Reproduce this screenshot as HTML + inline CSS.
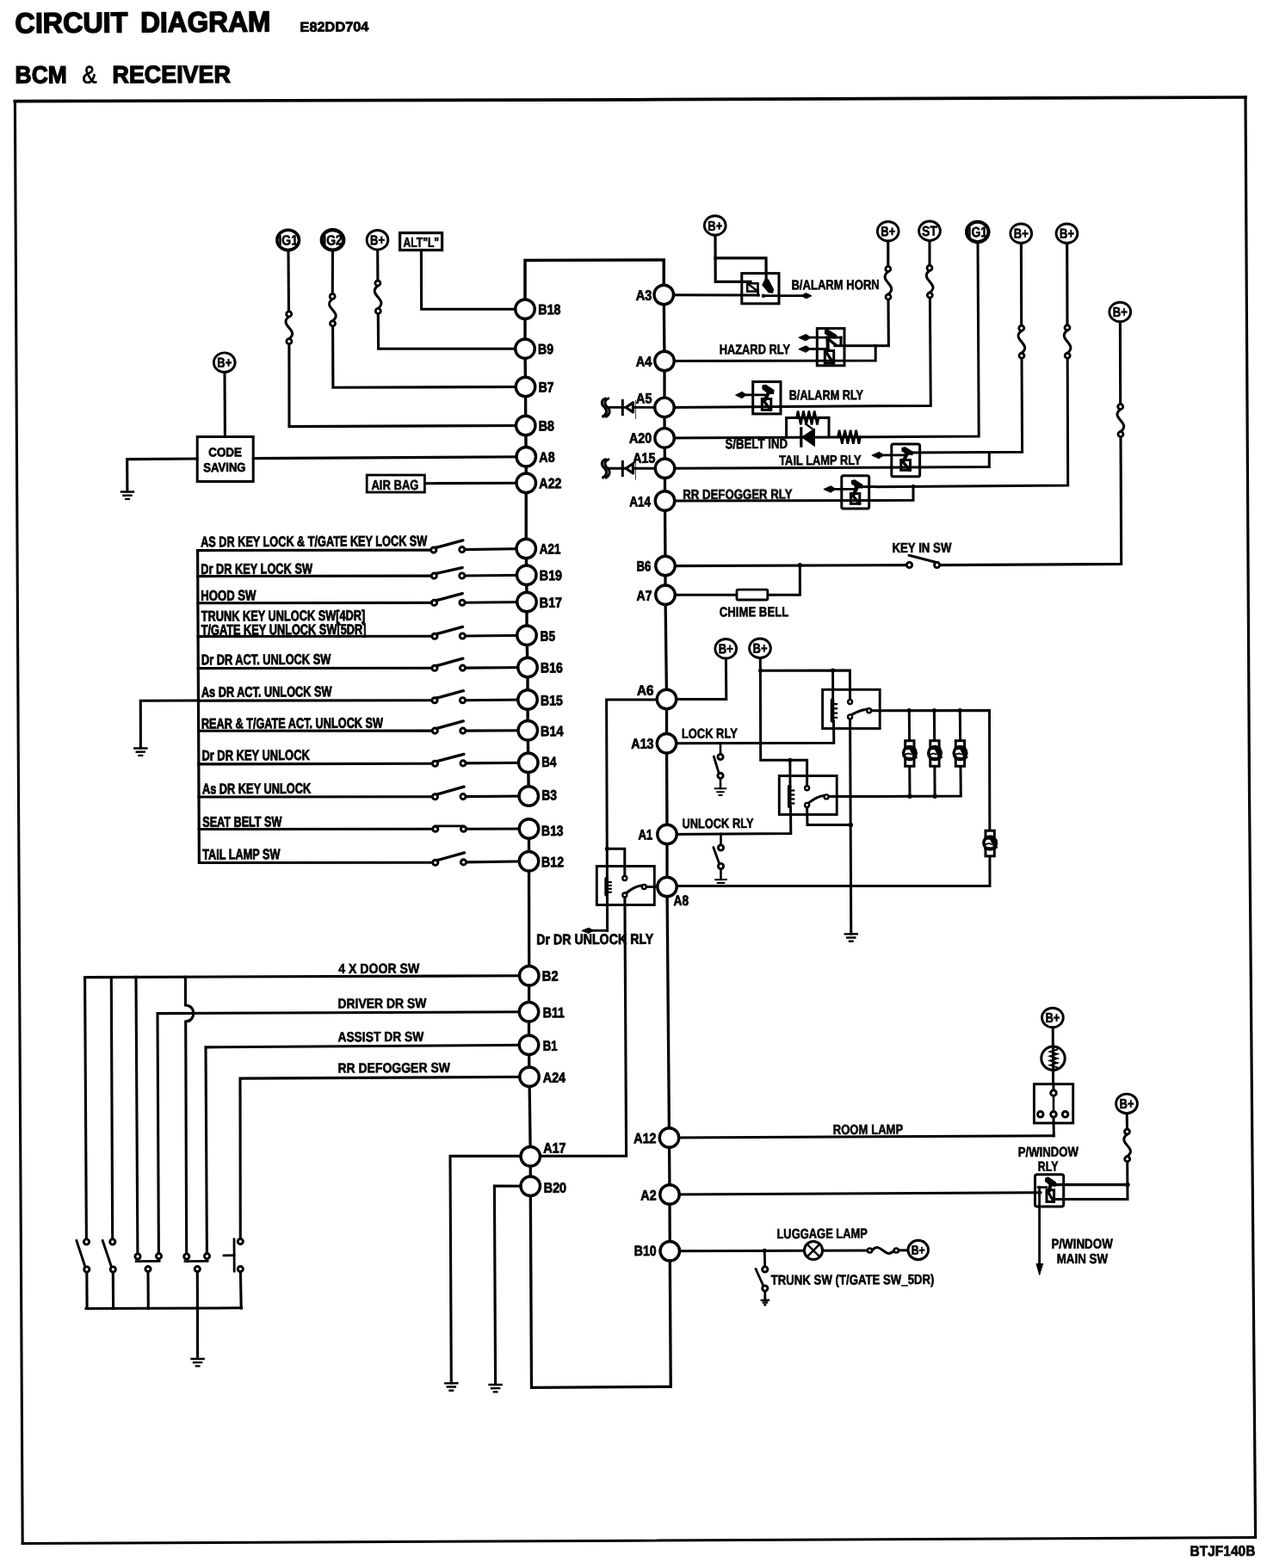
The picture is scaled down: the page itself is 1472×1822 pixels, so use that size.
<!DOCTYPE html>
<html lang="en">
<head>
<meta charset="utf-8">
<title>Circuit Diagram - BCM &amp; Receiver</title>
<style>
html,body{margin:0;padding:0;background:#fff;-webkit-font-smoothing:antialiased;}
body{width:1472px;height:1822px;overflow:hidden;}
svg{display:block;text-rendering:geometricPrecision;filter:grayscale(1);}
text{white-space:pre;}
</style>
</head>
<body>
<svg width="1472" height="1822" viewBox="0 0 1472 1822" font-family="'Liberation Sans', sans-serif">
<g fill="none" stroke="#000" stroke-linecap="square" stroke-linejoin="miter">
<path d="M17.4 117.6 L736 115.8 L1447 113" stroke-width="3.7"/>
<path d="M1447 113 L1451.5 920 L1458.6 1786.5" stroke-width="3.2"/>
<path d="M26.2 1793.5 L736 1790.2 L1458.6 1786.5" stroke-width="2.9"/>
<path d="M17.4 117.6 L21.5 920 L26.2 1793.5" stroke-width="3.1"/>
<path d="M610 359 L610 302.5 L771.25 302 L771.25 342" stroke-width="3.5"/>
<path d="M610 359.25 L610 405.2 L610.5 449.5 L610.75 494.5 L611.25 530.75 L611.25 561.25 L611.25 637.5 L611.75 668.25 L612 699.5 L612 738.25 L613 775.5 L613 813 L613.25 848.75 L613.75 886.25 L614.25 925" stroke-width="3.4"/>
<path d="M614.5 963 L614.5 1000.75 L614.75 1133.75 L614.5 1175.75 L614.5 1214.25 L615 1251.25 L616.25 1343.75 L616.25 1378.25 L617.5 1612.3 L779.25 1611.3 L778.25 1453.75 L778 1388 L777.5 1322 L775 1030.5 L775 969.5 L774.5 863.75 L774.5 812.5 L773 691.25 L773 657.5 L772.5 582 L772.5 544.3 L772.1 508.9 L772 473.4 L772 419.5 L771.25 342.5" stroke-width="3.3"/>
<path d="M335 291 L335.5 362" stroke-width="3.1"/>
<path d="M335.7 367.9 C322.7 378.26 348.9 383.34 335.9 393.7" stroke-width="3"/>
<path d="M335.9 399.5 L336 495.6 L610.75 494.5" stroke-width="3.1"/>
<path d="M386.5 291 L386.3 341.5" stroke-width="3.1"/>
<path d="M386.2 347.4 C373.2 357.59 399.5 362.61 386.5 372.8" stroke-width="3"/>
<path d="M386.6 378.5 L386.9 450.3 L610.5 449.5" stroke-width="3.1"/>
<path d="M438.7 291 L438.9 326" stroke-width="3.1"/>
<path d="M438.9 332 C425.9 342.61 452.3 347.79 439.3 358.4" stroke-width="3"/>
<path d="M439.3 364.3 L439.6 405.3 L610 405.2" stroke-width="3.1"/>
<rect x="464.6" y="270.6" width="49" height="20" stroke-width="3.2" fill="#fff"/>
<path d="M489.4 291 L489.6 359.3 L610 359.2" stroke-width="3.1"/>
<path d="M261 433.5 L261.4 507" stroke-width="3.1"/>
<rect x="229.2" y="507.5" width="65" height="52" stroke-width="3" fill="#fff"/>
<path d="M229 533 L147.7 533.6 L147.9 571" stroke-width="3.1"/>
<path d="M139.75 571.57 L156.25 571.43" stroke-width="2.4" stroke-linecap="butt"/>
<path d="M142.25 575.75 L153.75 575.65" stroke-width="2.4" stroke-linecap="butt"/>
<path d="M145 579.92 L151 579.88" stroke-width="2.4" stroke-linecap="butt"/>
<path d="M294.4 532.6 L611.25 530.75" stroke-width="3.1"/>
<rect x="426.2" y="552" width="67.2" height="20" stroke-width="2.8" fill="#fff"/>
<path d="M493.5 561.7 L611.25 561.25" stroke-width="3.1"/>
<path d="M229.6 639.6 L231.4 1002.2" stroke-width="3.2"/>
<path d="M229.61 639.6 L501.3 639.1" stroke-width="3.1"/>
<path d="M539.3 638.6 L611.25 637.5" stroke-width="3.1"/>
<path d="M505.8 636.5 L537.8 627.9" stroke-width="3.4" stroke-linecap="round"/>
<path d="M229.76 669.6 L501.8 669.1" stroke-width="3.1"/>
<path d="M539.3 669 L611.75 668.25" stroke-width="3.1"/>
<path d="M506.3 666.5 L537.1 659.6" stroke-width="3.4" stroke-linecap="round"/>
<path d="M229.91 700.8 L502 700.4" stroke-width="3.1"/>
<path d="M539.5 700.2 L612 699.5" stroke-width="3.1"/>
<path d="M506.5 697.8 L537.2 689.6" stroke-width="3.4" stroke-linecap="round"/>
<path d="M230.1 739.6 L502.5 739.3" stroke-width="3.1"/>
<path d="M539.8 739 L612 738.25" stroke-width="3.1"/>
<path d="M507 736.7 L537.5 728.4" stroke-width="3.4" stroke-linecap="round"/>
<path d="M230.28 776.6 L502.5 776.3" stroke-width="3.1"/>
<path d="M540 776.1 L613 775.5" stroke-width="3.1"/>
<path d="M507 773.7 L537.8 765.2" stroke-width="3.4" stroke-linecap="round"/>
<path d="M230.47 814.2 L502.5 813.8" stroke-width="3.1"/>
<path d="M540 813.7 L613 813" stroke-width="3.1"/>
<path d="M507 811.2 L538.3 802.7" stroke-width="3.4" stroke-linecap="round"/>
<path d="M230.64 849.2 L502.8 849.1" stroke-width="3.1"/>
<path d="M540.3 849.1 L613.25 848.75" stroke-width="3.1"/>
<path d="M507.3 846.5 L538.3 837.9" stroke-width="3.4" stroke-linecap="round"/>
<path d="M230.83 887.9 L503 887.3" stroke-width="3.1"/>
<path d="M540.5 886.9 L613.75 886.25" stroke-width="3.1"/>
<path d="M507.5 884.7 L538.8 876.4" stroke-width="3.4" stroke-linecap="round"/>
<path d="M231.02 926 L503 925.8" stroke-width="3.1"/>
<path d="M540.5 925.6 L614.25 925" stroke-width="3.1"/>
<path d="M507.5 923.2 L539 914.2" stroke-width="3.4" stroke-linecap="round"/>
<path d="M231.2 963.5 L503.3 963.3" stroke-width="3.1"/>
<path d="M541 963.3 L614.5 963" stroke-width="3.1"/>
<path d="M505.8 959.9 L538.5 959.9" stroke-width="2.8"/>
<path d="M231.4 1002.5 L503.3 1002.3" stroke-width="3.1"/>
<path d="M541 1001.9 L614.5 1000.75" stroke-width="3.1"/>
<path d="M507.8 999.7 L539.5 990.9" stroke-width="3.4" stroke-linecap="round"/>
<path d="M231 814 L163.3 814.2 L163.4 869" stroke-width="3.1"/>
<path d="M155.05 869.57 L171.55 869.43" stroke-width="2.4" stroke-linecap="butt"/>
<path d="M157.55 873.75 L169.05 873.65" stroke-width="2.4" stroke-linecap="butt"/>
<path d="M160.3 877.92 L166.3 877.88" stroke-width="2.4" stroke-linecap="butt"/>
<path d="M100.4 1441 L98.6 1135.6 L614.75 1133.75" stroke-width="3.1"/>
<path d="M129.3 1135.5 L130.7 1441" stroke-width="3.1"/>
<path d="M158 1135.4 L159.9 1458" stroke-width="3.1"/>
<path d="M215.4 1135.2 L215.5 1168 C228 1168.5 228 1186.5 215.7 1187 L216.7 1458" stroke-width="3.1"/>
<path d="M184.4 1457.5 L183 1177.6 L614.5 1175.75" stroke-width="3.1"/>
<path d="M240.4 1457.5 L239 1216.9 L614.5 1214.25" stroke-width="3.1"/>
<path d="M279.3 1440.5 L279 1253.1 L615 1251.25" stroke-width="3.1"/>
<path d="M88.8 1441.3 L99.3 1473" stroke-width="2.9" stroke-linecap="round"/>
<path d="M100.8 1477.5 L101.1 1520.3" stroke-width="3.1"/>
<path d="M119.1 1441.3 L129.8 1473" stroke-width="2.9" stroke-linecap="round"/>
<path d="M131.3 1477.5 L131.6 1520.3" stroke-width="3.1"/>
<path d="M158.2 1465.6 L185.1 1465.4" stroke-width="2.8"/>
<path d="M215 1465.6 L241.1 1465.4" stroke-width="2.8"/>
<path d="M172 1477.5 L172.3 1520.2" stroke-width="3.1"/>
<path d="M229.3 1477.5 L229.6 1578.5" stroke-width="3.1"/>
<path d="M272 1440 L272.2 1477" stroke-width="2.8"/>
<path d="M260 1458.8 L272 1458.7" stroke-width="2.8"/>
<path d="M279.4 1477.5 L280.2 1520" stroke-width="3.1"/>
<path d="M100 1520.5 L280.6 1519.8" stroke-width="3"/>
<path d="M221.35 1579.07 L237.85 1578.93" stroke-width="2.4" stroke-linecap="butt"/>
<path d="M223.85 1583.25 L235.35 1583.15" stroke-width="2.4" stroke-linecap="butt"/>
<path d="M226.6 1587.42 L232.6 1587.38" stroke-width="2.4" stroke-linecap="butt"/>
<path d="M524.3 1607 L523 1343.4 L727.6 1343.2 L725.9 1043" stroke-width="3.1"/>
<path d="M516.05 1607.37 L532.55 1607.23" stroke-width="2.4" stroke-linecap="butt"/>
<path d="M518.55 1611.55 L530.05 1611.45" stroke-width="2.4" stroke-linecap="butt"/>
<path d="M521.3 1615.72 L527.3 1615.68" stroke-width="2.4" stroke-linecap="butt"/>
<path d="M575.6 1608.5 L574.4 1378.1 L616.25 1378.2" stroke-width="3.1"/>
<path d="M567.35 1609.07 L583.85 1608.93" stroke-width="2.4" stroke-linecap="butt"/>
<path d="M569.85 1613.25 L581.35 1613.15" stroke-width="2.4" stroke-linecap="butt"/>
<path d="M572.6 1617.42 L578.6 1617.38" stroke-width="2.4" stroke-linecap="butt"/>
<path d="M831 274 L831.2 327.4 L872 327.4" stroke-width="3.2"/>
<path d="M831.1 299.9 L890 299.9 L890.2 327" stroke-width="3.2"/>
<rect x="861.8" y="317.6" width="43.2" height="35.2" stroke-width="3" fill="none"/>
<rect x="868.2" y="329.3" width="12.3" height="9.3" stroke-width="2.6" fill="none"/>
<path d="M868.5 329.5 L880.5 338.5" stroke-width="2.4"/>
<path d="M880.5 338 L880.8 343" stroke-width="2.8"/>
<path d="M889 325 L892.5 325 L898.5 336.5 L897.5 340 L893 339.5 L886 331 Z" fill="#000" stroke="#000" stroke-width="1.4" stroke-linejoin="round"/>
<path d="M771.25 342.8 L881.2 343" stroke-width="3.1"/>
<path d="M886.5 343.6 L938.5 343.6" stroke-width="2.8"/>
<path d="M942.5 343.6 L936.5 340.6 L930.5 343.6 L936.5 346.6 Z" fill="#000" stroke="#000" stroke-width="1" stroke-linejoin="round"/>
<circle cx="887" cy="343.7" r="2.3" fill="#000" stroke="none"/>
<path d="M1031.8 281 L1031.8 309.5" stroke-width="3.1"/>
<path d="M1031.8 315.5 C1018.8 326.15 1045 331.35 1032 342" stroke-width="3"/>
<path d="M1032 348 L1032.4 401.8 L970 401.7" stroke-width="3.1"/>
<path d="M772 419.5 L1017.2 419 L1017.2 401.8" stroke-width="3"/>
<rect x="949.3" y="381.6" width="31.7" height="43.2" stroke-width="3" fill="none"/>
<path d="M932.3 392.1 L977 392.1" stroke-width="2.8"/>
<path d="M928.3 392.1 L936.4 388.5 L941.8 392.1 L936.4 395.7 Z" fill="#000" stroke="#000" stroke-width="1" stroke-linejoin="round"/>
<path d="M932.3 405.5 L962 405.5" stroke-width="2.8"/>
<path d="M928.3 405.5 L936.4 401.9 L941.8 405.5 L936.4 409.1 Z" fill="#000" stroke="#000" stroke-width="1" stroke-linejoin="round"/>
<path d="M977 392.2 L977 401.5" stroke-width="3"/>
<path d="M958.5 383.8 L962 383.5 L972 389.8 L971 393 L966 392.5 L958.5 387.5 Z" fill="#000" stroke="#000" stroke-width="1.2" stroke-linejoin="round"/>
<path d="M960.5 392.5 L970.5 400.5" stroke-width="3.4"/>
<path d="M961.5 393 L961.8 407" stroke-width="4"/>
<rect x="958.3" y="407.5" width="10.4" height="14.5" stroke-width="3" fill="none"/>
<path d="M959 408 L968 421.5" stroke-width="3.4"/>
<path d="M1080 280.5 L1080 308.3" stroke-width="3.1"/>
<path d="M1080 314.3 C1067 324.61 1093.3 329.69 1080.3 340" stroke-width="3"/>
<path d="M1080.4 346 L1081.3 471.4 L772 473.4" stroke-width="3"/>
<rect x="874.7" y="443.6" width="32.3" height="37.3" stroke-width="3" fill="none"/>
<path d="M859 458.9 L888 458.9" stroke-width="2.8"/>
<path d="M855 458.9 L862.2 455.3 L867 458.9 L862.2 462.5 Z" fill="#000" stroke="#000" stroke-width="1" stroke-linejoin="round"/>
<path d="M886 448 L889.5 447.3 L899 453.5 L898.5 457.5 L893.5 457.5 L886 452 Z" fill="#000" stroke="#000" stroke-width="1.2" stroke-linejoin="round"/>
<path d="M893 456 L889 464" stroke-width="4.2"/>
<rect x="885.3" y="463.5" width="10.5" height="12.8" stroke-width="3" fill="none"/>
<path d="M886 464 L895 476" stroke-width="3.4"/>
<path d="M708 473.4 L772 473.4" stroke-width="2.9"/>
<path d="M723.3 464 L723.3 483.2" stroke-width="3" stroke-linecap="butt"/>
<path d="M727.3 473.4 L735.4 467.8 L735.4 479 Z" fill="#fff" stroke="#000" stroke-width="3.2" stroke-linejoin="round"/>
<path d="M738.4 465.4 L738.4 486.4" stroke-width="0.8"/>
<path d="M704.4 462.6 C697.5 464.4 698.5 470.4 702.5 473.4 C706 477.4 705 481.9 699.4 484.7" stroke-width="3" stroke-linecap="butt"/>
<path d="M708 462.6 C701.1 464.4 702.1 470.4 706.1 473.4 C709.6 477.4 708.6 481.9 703 484.7" stroke-width="3" stroke-linecap="butt"/>
<path d="M708 544.3 L772 544.3" stroke-width="2.9"/>
<path d="M723.3 534.9 L723.3 554.1" stroke-width="3" stroke-linecap="butt"/>
<path d="M727.3 544.3 L735.4 538.7 L735.4 549.9 Z" fill="#fff" stroke="#000" stroke-width="3.2" stroke-linejoin="round"/>
<path d="M738.4 536.3 L738.4 557.3" stroke-width="0.8"/>
<path d="M704.4 533.5 C697.5 535.3 698.5 541.3 702.5 544.3 C706 548.3 705 552.8 699.4 555.6" stroke-width="3" stroke-linecap="butt"/>
<path d="M708 533.5 C701.1 535.3 702.1 541.3 706.1 544.3 C709.6 548.3 708.6 552.8 703 555.6" stroke-width="3" stroke-linecap="butt"/>
<path d="M1136 282 L1137.2 507.1 L772.1 508.9" stroke-width="3"/>
<path d="M913.6 508 L913.6 485.6 L963 485.3 L963 507.6" stroke-width="3"/>
<path d="M925.5 485.6 L927.09 477.6 L930.28 493.6 L933.47 477.6 L936.66 493.6 L939.84 477.6 L943.03 493.6 L946.22 477.6 L949.41 493.6 L951 485.6" stroke-width="2.6" stroke-linejoin="miter"/>
<path d="M973.5 507.7 L975.12 499.7 L978.38 515.7 L981.62 499.7 L984.88 515.7 L988.12 499.7 L991.38 515.7 L994.62 499.7 L997.88 515.7 L999.5 507.7" stroke-width="2.6" stroke-linejoin="miter"/>
<path d="M930.8 497.8 L930.8 518.2" stroke-width="3.2"/>
<path d="M931.8 507.9 L946.4 498.2 L946.4 518.2 Z" fill="#000" stroke="#000" stroke-width="1.2" stroke-linejoin="round"/>
<path d="M943.5 498 L936.3 492.8" stroke-width="2.2"/>
<path d="M1186.4 283.5 L1186.7 378.3" stroke-width="3.1"/>
<path d="M1186.75 384.25 C1173.75 394.69 1200 399.81 1187 410.25" stroke-width="3"/>
<path d="M1187 416.2 L1187.6 525.2 L1052 526" stroke-width="3"/>
<path d="M772.5 544.3 L1149.3 542.5 L1149.3 525.4" stroke-width="3"/>
<rect x="1035.8" y="516" width="32.8" height="37.7" stroke-width="3" fill="none" rx="2"/>
<path d="M1017.3 528.9 L1050 528.9" stroke-width="2.8"/>
<path d="M1013.3 528.9 L1021.4 525.3 L1026.8 528.9 L1021.4 532.5 Z" fill="#000" stroke="#000" stroke-width="1" stroke-linejoin="round"/>
<path d="M1048 520.5 L1051.5 519.8 L1060.5 525.3 L1060 528.5 L1055 528 L1048 524 Z" fill="#000" stroke="#000" stroke-width="1.2" stroke-linejoin="round"/>
<path d="M1054 527 L1050 535" stroke-width="4.2"/>
<rect x="1046.8" y="534.5" width="10.7" height="11.8" stroke-width="3" fill="none"/>
<path d="M1047.5 535 L1057 546" stroke-width="3.4"/>
<path d="M1239.7 283.5 L1240 377.8" stroke-width="3.1"/>
<path d="M1240 383.75 C1227 394.4 1253.2 399.6 1240.2 410.25" stroke-width="3"/>
<path d="M1240.2 416.2 L1240.7 563.9 L994 565.8" stroke-width="3"/>
<path d="M772.5 582 L1061 581.3 L1061 564.5" stroke-width="3"/>
<rect x="977.8" y="552.8" width="31.9" height="38.1" stroke-width="3" fill="none" rx="2"/>
<path d="M961.3 568.3 L992 568.3" stroke-width="2.8"/>
<path d="M957.3 568.3 L965.4 564.7 L970.8 568.3 L965.4 571.9 Z" fill="#000" stroke="#000" stroke-width="1" stroke-linejoin="round"/>
<path d="M989.5 558.5 L993 557.8 L1002 563.5 L1001.5 567 L996.5 566.5 L989.5 562 Z" fill="#000" stroke="#000" stroke-width="1.2" stroke-linejoin="round"/>
<path d="M996 566 L992 574" stroke-width="4.2"/>
<rect x="988.5" y="573.5" width="10.3" height="11.8" stroke-width="3" fill="none"/>
<path d="M989 574 L998.5 585" stroke-width="3.4"/>
<path d="M1301.4 375 L1301.7 469.5" stroke-width="3.1"/>
<path d="M1301.75 475.5 C1288.75 485.94 1315 491.06 1302 501.5" stroke-width="3"/>
<path d="M1302 507.5 L1302.7 655.5 L1091.5 656.6" stroke-width="3.1"/>
<path d="M1087 653.2 L1056 645.3" stroke-width="3" stroke-linecap="round"/>
<path d="M1053.5 656.6 L773 657.6" stroke-width="3.1"/>
<circle cx="929.3" cy="656.6" r="2.5" fill="#000" stroke="none"/>
<path d="M929.3 656.8 L929.4 691.3 L773 691.25" stroke-width="3"/>
<rect x="856" y="685.2" width="35.8" height="11.8" stroke-width="2.8" fill="#fff" rx="1.5"/>
<path d="M843.4 766 L843.8 812.6 L774.5 812.5" stroke-width="3"/>
<path d="M774.5 812.9 L704.6 813.1 L705.6 1081.3" stroke-width="3"/>
<path d="M680.3 1081.3 L705.6 1081.3" stroke-width="2.8"/>
<path d="M676.3 1081.3 L684.1 1078.3 L689.3 1081.3 L684.1 1084.3 Z" fill="#000" stroke="#000" stroke-width="1" stroke-linejoin="round"/>
<circle cx="705.3" cy="986.3" r="2.5" fill="#000" stroke="none"/>
<path d="M705.3 986.3 L725.8 986.2 L725.8 1017.5" stroke-width="3"/>
<rect x="693.3" y="1006.5" width="67" height="45" stroke-width="2.9" fill="none"/>
<path d="M704.6 1021 L704.6 1039.5" stroke-width="4.6" stroke-linecap="round"/>
<path d="M706.2 1025.05 L710.8 1025.05" stroke-width="2.2" stroke-linecap="butt"/>
<path d="M706.2 1028.92 L710.8 1028.92" stroke-width="2.2" stroke-linecap="butt"/>
<path d="M706.2 1032.8 L710.8 1032.8" stroke-width="2.2" stroke-linecap="butt"/>
<path d="M706.2 1036.67 L710.8 1036.67" stroke-width="2.2" stroke-linecap="butt"/>
<path d="M727.8 1037.5 Q737.05 1030 745.3 1029" stroke-width="3"/>
<path d="M751.3 1030.5 L775 1030.5" stroke-width="2.9"/>
<path d="M883.3 765.5 L883.7 883.3 L937.6 883.2 L937.6 912.7" stroke-width="3"/>
<path d="M883.5 779.2 L987.4 779 L987.6 812.6" stroke-width="3"/>
<circle cx="883.6" cy="779.2" r="2.5" fill="#000" stroke="none"/>
<circle cx="967.6" cy="779.1" r="2.5" fill="#000" stroke="none"/>
<path d="M967.6 779.2 L967.7 813" stroke-width="2.9"/>
<path d="M968.5 838 L968.8 863.3 L774.5 863.75" stroke-width="3"/>
<rect x="955.6" y="801.3" width="66.6" height="45.2" stroke-width="2.9" fill="none"/>
<path d="M967 813.5 L967 837.5" stroke-width="4.6" stroke-linecap="round"/>
<path d="M968.6 818.1 L973.2 818.1" stroke-width="2.2" stroke-linecap="butt"/>
<path d="M968.6 823.35 L973.2 823.35" stroke-width="2.2" stroke-linecap="butt"/>
<path d="M968.6 828.6 L973.2 828.6" stroke-width="2.2" stroke-linecap="butt"/>
<path d="M968.6 833.85 L973.2 833.85" stroke-width="2.2" stroke-linecap="butt"/>
<path d="M989.6 830.4 Q998.65 825.2 1006.7 824.2" stroke-width="3"/>
<circle cx="917.9" cy="883.2" r="2.5" fill="#000" stroke="none"/>
<path d="M917.9 883.3 L918 913.5" stroke-width="2.9"/>
<path d="M918.5 937.5 L918.8 968.6 L775 969.5" stroke-width="3"/>
<rect x="905.3" y="901.5" width="66.9" height="45" stroke-width="2.9" fill="none"/>
<path d="M917.2 914 L917.2 937" stroke-width="4.6" stroke-linecap="round"/>
<path d="M918.8 918.5 L923.4 918.5" stroke-width="2.2" stroke-linecap="butt"/>
<path d="M918.8 923.5 L923.4 923.5" stroke-width="2.2" stroke-linecap="butt"/>
<path d="M918.8 928.5 L923.4 928.5" stroke-width="2.2" stroke-linecap="butt"/>
<path d="M918.8 933.5 L923.4 933.5" stroke-width="2.2" stroke-linecap="butt"/>
<path d="M939.6 932.9 Q948.85 925.4 957.1 924.4" stroke-width="3"/>
<path d="M1012.7 825.7 L1149.5 825.4 L1150 1029.6 L775 1029.6" stroke-width="3"/>
<path d="M963.1 925.6 L1116.3 925 L1115.3 825.5" stroke-width="3"/>
<path d="M1056.3 825.5 L1057 925.2" stroke-width="3"/>
<circle cx="1056.3" cy="825.6" r="2.5" fill="#000" stroke="none"/>
<circle cx="1057" cy="925.2" r="2.7" fill="#000" stroke="none"/>
<path d="M1085.4 825.5 L1086.1 925.2" stroke-width="3"/>
<circle cx="1085.4" cy="825.6" r="2.5" fill="#000" stroke="none"/>
<circle cx="1086.1" cy="925.2" r="2.7" fill="#000" stroke="none"/>
<circle cx="1115.2" cy="825.5" r="2.5" fill="#000" stroke="none"/>
<rect x="1051.7" y="860.7" width="10.3" height="29.6" stroke-width="3" fill="#fff"/>
<ellipse cx="1056.9" cy="875" rx="7.3" ry="7.4" stroke-width="3.6" fill="#fff"/>
<path d="M1051.5 869.8 L1062.3 869.8" stroke-width="2.8"/>
<path d="M1051.5 881.2 L1062.3 881.2" stroke-width="2.8"/>
<path d="M1051.7 876.6 L1055.7 875.4 L1058.2 876.4" stroke-width="1.8"/>
<path d="M1059.2 870.5 L1063 879.5" stroke-width="4.6"/>
<rect x="1080.8" y="860.7" width="10.3" height="29.6" stroke-width="3" fill="#fff"/>
<ellipse cx="1086" cy="875" rx="7.3" ry="7.4" stroke-width="3.6" fill="#fff"/>
<path d="M1080.6 869.8 L1091.4 869.8" stroke-width="2.8"/>
<path d="M1080.6 881.2 L1091.4 881.2" stroke-width="2.8"/>
<path d="M1080.8 876.6 L1084.8 875.4 L1087.3 876.4" stroke-width="1.8"/>
<path d="M1088.3 870.5 L1092.1 879.5" stroke-width="4.6"/>
<rect x="1110.3" y="860.7" width="10.3" height="29.6" stroke-width="3" fill="#fff"/>
<ellipse cx="1115.5" cy="875" rx="7.3" ry="7.4" stroke-width="3.6" fill="#fff"/>
<path d="M1110.1 869.8 L1120.9 869.8" stroke-width="2.8"/>
<path d="M1110.1 881.2 L1120.9 881.2" stroke-width="2.8"/>
<path d="M1110.3 876.6 L1114.3 875.4 L1116.8 876.4" stroke-width="1.8"/>
<path d="M1117.8 870.5 L1121.6 879.5" stroke-width="4.6"/>
<rect x="1145" y="965.2" width="10.3" height="29.6" stroke-width="3" fill="#fff"/>
<ellipse cx="1150.2" cy="979.5" rx="7.3" ry="7.4" stroke-width="3.6" fill="#fff"/>
<path d="M1144.8 974.3 L1155.6 974.3" stroke-width="2.8"/>
<path d="M1144.8 985.7 L1155.6 985.7" stroke-width="2.8"/>
<path d="M1145 981.1 L1149 979.9 L1151.5 980.9" stroke-width="1.8"/>
<path d="M1152.5 975 L1156.3 984" stroke-width="4.6"/>
<path d="M987.6 835.9 L988.8 1085" stroke-width="3"/>
<path d="M937.6 938.4 L938 958.5 L988.4 958.4" stroke-width="3"/>
<circle cx="988.4" cy="958.4" r="2.6" fill="#000" stroke="none"/>
<path d="M980.55 1085.37 L997.05 1085.23" stroke-width="2.4" stroke-linecap="butt"/>
<path d="M983.05 1089.55 L994.55 1089.45" stroke-width="2.4" stroke-linecap="butt"/>
<path d="M985.8 1093.72 L991.8 1093.68" stroke-width="2.4" stroke-linecap="butt"/>
<path d="M837 863.5 L837 876.5" stroke-width="2.6"/>
<path d="M829.3 879 L835.5 899.3" stroke-width="2.8" stroke-linecap="round"/>
<path d="M837 904.3 L837 916" stroke-width="2.6"/>
<path d="M829.75 916.36 L844.25 916.24" stroke-width="2" stroke-linecap="butt"/>
<path d="M832.25 920.24 L841.75 920.16" stroke-width="2" stroke-linecap="butt"/>
<path d="M834.5 924.12 L839.5 924.08" stroke-width="2" stroke-linecap="butt"/>
<path d="M837.5 969 L837.5 982" stroke-width="2.6"/>
<path d="M828.8 984.5 L836 1004.5" stroke-width="2.8" stroke-linecap="round"/>
<path d="M837.5 1009.5 L837.5 1021.8" stroke-width="2.6"/>
<path d="M830.25 1022.16 L844.75 1022.04" stroke-width="2" stroke-linecap="butt"/>
<path d="M832.75 1026.04 L842.25 1025.96" stroke-width="2" stroke-linecap="butt"/>
<path d="M835 1029.92 L840 1029.88" stroke-width="2" stroke-linecap="butt"/>
<path d="M1223.2 1195 L1223.6 1259.5" stroke-width="3"/>
<circle cx="1223.5" cy="1229.7" r="13.7" stroke-width="3" fill="#fff"/>
<path d="M1223.6 1216 L1223.6 1244" stroke-width="3"/>
<path d="M1228.2 1219.5 L1220.1 1222.1 L1228.2 1224.7 L1220.1 1227.3 L1228.2 1229.9 L1220.1 1232.5 L1228.2 1235.1 L1220.1 1237.7 L1228.2 1240.3" stroke-width="2"/>
<rect x="1201.4" y="1259.7" width="45.3" height="45.3" stroke-width="2.9" fill="none"/>
<path d="M1223.9 1259.5 L1224 1267" stroke-width="3"/>
<path d="M1224 1273 L1224 1292" stroke-width="2.6"/>
<path d="M1224 1297.8 L1224.3 1319.8" stroke-width="3"/>
<path d="M777.5 1322 L1224.3 1319.8" stroke-width="3"/>
<path d="M1309.2 1295 L1309.5 1312" stroke-width="3"/>
<path d="M1309.5 1318 C1296.5 1328.34 1322.7 1333.41 1309.7 1343.75" stroke-width="3"/>
<path d="M1309.7 1349.7 L1310 1393.4 L1224.5 1393.4" stroke-width="3"/>
<path d="M1310 1376.6 L1225 1376.6" stroke-width="3.2"/>
<circle cx="1310" cy="1376.6" r="2.7" fill="#000" stroke="none"/>
<path d="M778 1388 L1202.5 1385.8" stroke-width="3"/>
<rect x="1202.5" y="1364.7" width="33.2" height="37.3" stroke-width="3" fill="none" rx="2.5"/>
<path d="M1202.5 1385.8 L1209 1385.8" stroke-width="3"/>
<path d="M1206 1379.6 L1216 1379.6" stroke-width="2.6"/>
<path d="M1215 1369 L1218 1368.3 L1226.5 1374 L1226.5 1378 L1221 1377.5 L1214.5 1372.5 Z" fill="#000" stroke="#000" stroke-width="1.4" stroke-linejoin="round"/>
<path d="M1220.5 1377 L1219 1383" stroke-width="4"/>
<rect x="1216" y="1382.8" width="8.6" height="13.6" stroke-width="3" fill="none"/>
<path d="M1217 1384 L1224 1396" stroke-width="3"/>
<path d="M1207.6 1379.6 L1207.6 1475" stroke-width="2.8"/>
<path d="M1207.6 1481 L1204 1468.5 L1211.2 1468.5 Z" fill="#000" stroke="#000" stroke-width="1" stroke-linejoin="round"/>
<path d="M778.25 1453.75 L1066 1452.7" stroke-width="3"/>
<circle cx="888.3" cy="1453.3" r="2.5" fill="#000" stroke="none"/>
<circle cx="945" cy="1453" r="10.6" stroke-width="3" fill="#fff"/>
<path d="M937.8 1445.8 L952.2 1460.2" stroke-width="2.4"/>
<path d="M952.2 1445.8 L937.8 1460.2" stroke-width="2.4"/>
<rect x="1012" y="1448" width="28" height="10" fill="#fff" stroke="none"/>
<path d="M1013.1 1453 C1023.44 1441 1028.36 1465 1038.7 1453" stroke-width="3"/>
<path d="M888.3 1453.5 L888.7 1472" stroke-width="2.8"/>
<path d="M878 1474.5 L887.3 1495" stroke-width="2.8" stroke-linecap="round"/>
<path d="M888.8 1500 L888.8 1511" stroke-width="2.8"/>
<path d="M883.55 1510.84 L894.05 1510.76" stroke-width="2.4" stroke-linecap="butt"/>
<path d="M885.55 1513.53 L892.05 1513.47" stroke-width="2.4" stroke-linecap="butt"/>
<path d="M887.3 1516.21 L890.3 1516.19" stroke-width="2.4" stroke-linecap="butt"/>
</g>
<g fill="none" stroke="#000">
<circle cx="610" cy="359.25" r="11.25" stroke-width="3.4" fill="#fff"/>
<circle cx="610" cy="405.2" r="11.25" stroke-width="3.4" fill="#fff"/>
<circle cx="610.5" cy="449.5" r="11.25" stroke-width="3.4" fill="#fff"/>
<circle cx="610.75" cy="494.5" r="11.25" stroke-width="3.4" fill="#fff"/>
<circle cx="611.25" cy="530.75" r="11.25" stroke-width="3.4" fill="#fff"/>
<circle cx="611.25" cy="561.25" r="11.25" stroke-width="3.4" fill="#fff"/>
<circle cx="611.25" cy="637.5" r="11.25" stroke-width="3.4" fill="#fff"/>
<circle cx="611.75" cy="668.25" r="11.25" stroke-width="3.4" fill="#fff"/>
<circle cx="612" cy="699.5" r="11.25" stroke-width="3.4" fill="#fff"/>
<circle cx="612" cy="738.25" r="11.25" stroke-width="3.4" fill="#fff"/>
<circle cx="613" cy="775.5" r="11.25" stroke-width="3.4" fill="#fff"/>
<circle cx="613" cy="813" r="11.25" stroke-width="3.4" fill="#fff"/>
<circle cx="613.25" cy="848.75" r="11.25" stroke-width="3.4" fill="#fff"/>
<circle cx="613.75" cy="886.25" r="11.25" stroke-width="3.4" fill="#fff"/>
<circle cx="614.25" cy="925" r="11.25" stroke-width="3.4" fill="#fff"/>
<circle cx="614.5" cy="963" r="11.25" stroke-width="3.4" fill="#fff"/>
<circle cx="614.5" cy="1000.75" r="11.25" stroke-width="3.4" fill="#fff"/>
<circle cx="614.75" cy="1133.75" r="11.25" stroke-width="3.4" fill="#fff"/>
<circle cx="614.5" cy="1175.75" r="11.25" stroke-width="3.4" fill="#fff"/>
<circle cx="614.5" cy="1214.25" r="11.25" stroke-width="3.4" fill="#fff"/>
<circle cx="615" cy="1251.25" r="11.25" stroke-width="3.4" fill="#fff"/>
<circle cx="616.25" cy="1343.75" r="11.25" stroke-width="3.4" fill="#fff"/>
<circle cx="616.25" cy="1378.25" r="11.25" stroke-width="3.4" fill="#fff"/>
<circle cx="771.25" cy="342.5" r="11.25" stroke-width="3.4" fill="#fff"/>
<circle cx="772" cy="419.5" r="11.25" stroke-width="3.4" fill="#fff"/>
<circle cx="772" cy="473.4" r="11.25" stroke-width="3.4" fill="#fff"/>
<circle cx="772.1" cy="508.9" r="11.25" stroke-width="3.4" fill="#fff"/>
<circle cx="772.5" cy="544.3" r="11.25" stroke-width="3.4" fill="#fff"/>
<circle cx="772.5" cy="582" r="11.25" stroke-width="3.4" fill="#fff"/>
<circle cx="773" cy="657.5" r="11.25" stroke-width="3.4" fill="#fff"/>
<circle cx="773" cy="691.25" r="11.25" stroke-width="3.4" fill="#fff"/>
<circle cx="774.5" cy="812.5" r="11.25" stroke-width="3.4" fill="#fff"/>
<circle cx="774.5" cy="863.75" r="11.25" stroke-width="3.4" fill="#fff"/>
<circle cx="775" cy="969.5" r="11.25" stroke-width="3.4" fill="#fff"/>
<circle cx="775" cy="1030.5" r="11.25" stroke-width="3.4" fill="#fff"/>
<circle cx="777.5" cy="1322" r="11.25" stroke-width="3.4" fill="#fff"/>
<circle cx="778" cy="1388" r="11.25" stroke-width="3.4" fill="#fff"/>
<circle cx="778.25" cy="1453.75" r="11.25" stroke-width="3.4" fill="#fff"/>
<ellipse cx="334.7" cy="278.9" rx="12.8" ry="11.7" stroke-width="3.6" fill="#fff"/>
<circle cx="335.7" cy="364.9" r="3" stroke-width="2.8" fill="#fff"/>
<circle cx="335.9" cy="396.7" r="3" stroke-width="2.8" fill="#fff"/>
<ellipse cx="386.5" cy="278.8" rx="12.8" ry="11.7" stroke-width="4.2" fill="#fff"/>
<circle cx="386.2" cy="344.4" r="3" stroke-width="2.8" fill="#fff"/>
<circle cx="386.5" cy="375.8" r="3" stroke-width="2.8" fill="#fff"/>
<ellipse cx="438.5" cy="278.8" rx="12.4" ry="11.3" stroke-width="2.9" fill="#fff"/>
<circle cx="438.9" cy="329" r="3" stroke-width="2.8" fill="#fff"/>
<circle cx="439.3" cy="361.4" r="3" stroke-width="2.8" fill="#fff"/>
<ellipse cx="260.75" cy="421.2" rx="12.4" ry="11.3" stroke-width="2.9" fill="#fff"/>
<circle cx="503.8" cy="639.1" r="3.1" stroke-width="2.9" fill="#fff"/>
<circle cx="536.8" cy="638.6" r="3.1" stroke-width="2.9" fill="#fff"/>
<circle cx="504.3" cy="669.1" r="3.1" stroke-width="2.9" fill="#fff"/>
<circle cx="536.8" cy="669" r="3.1" stroke-width="2.9" fill="#fff"/>
<circle cx="504.5" cy="700.4" r="3.1" stroke-width="2.9" fill="#fff"/>
<circle cx="537" cy="700.2" r="3.1" stroke-width="2.9" fill="#fff"/>
<circle cx="505" cy="739.3" r="3.1" stroke-width="2.9" fill="#fff"/>
<circle cx="537.3" cy="739" r="3.1" stroke-width="2.9" fill="#fff"/>
<circle cx="505" cy="776.3" r="3.1" stroke-width="2.9" fill="#fff"/>
<circle cx="537.5" cy="776.1" r="3.1" stroke-width="2.9" fill="#fff"/>
<circle cx="505" cy="813.8" r="3.1" stroke-width="2.9" fill="#fff"/>
<circle cx="537.5" cy="813.7" r="3.1" stroke-width="2.9" fill="#fff"/>
<circle cx="505.3" cy="849.1" r="3.1" stroke-width="2.9" fill="#fff"/>
<circle cx="537.8" cy="849.1" r="3.1" stroke-width="2.9" fill="#fff"/>
<circle cx="505.5" cy="887.3" r="3.1" stroke-width="2.9" fill="#fff"/>
<circle cx="538" cy="886.9" r="3.1" stroke-width="2.9" fill="#fff"/>
<circle cx="505.5" cy="925.8" r="3.1" stroke-width="2.9" fill="#fff"/>
<circle cx="538" cy="925.6" r="3.1" stroke-width="2.9" fill="#fff"/>
<circle cx="505.8" cy="963.3" r="3.1" stroke-width="2.9" fill="#fff"/>
<circle cx="538.5" cy="963.3" r="3.1" stroke-width="2.9" fill="#fff"/>
<circle cx="505.8" cy="1002.3" r="3.1" stroke-width="2.9" fill="#fff"/>
<circle cx="538.5" cy="1001.9" r="3.1" stroke-width="2.9" fill="#fff"/>
<circle cx="100.5" cy="1443" r="3.1" stroke-width="2.9" fill="#fff"/>
<circle cx="100.8" cy="1475" r="3.1" stroke-width="2.9" fill="#fff"/>
<circle cx="130.8" cy="1443" r="3.1" stroke-width="2.9" fill="#fff"/>
<circle cx="131.3" cy="1475" r="3.1" stroke-width="2.9" fill="#fff"/>
<circle cx="160" cy="1460" r="3.1" stroke-width="2.9" fill="#fff"/>
<circle cx="184.5" cy="1459.6" r="3.1" stroke-width="2.9" fill="#fff"/>
<circle cx="172" cy="1474.6" r="3.1" stroke-width="2.9" fill="#fff"/>
<circle cx="216.8" cy="1460" r="3.1" stroke-width="2.9" fill="#fff"/>
<circle cx="240.5" cy="1459.6" r="3.1" stroke-width="2.9" fill="#fff"/>
<circle cx="229.3" cy="1474.6" r="3.1" stroke-width="2.9" fill="#fff"/>
<circle cx="279.3" cy="1442.6" r="3.1" stroke-width="2.9" fill="#fff"/>
<circle cx="279.3" cy="1474.6" r="3.1" stroke-width="2.9" fill="#fff"/>
<ellipse cx="830.75" cy="262" rx="12.4" ry="11.3" stroke-width="2.9" fill="#fff"/>
<ellipse cx="1031.75" cy="268.75" rx="12.4" ry="11.3" stroke-width="2.9" fill="#fff"/>
<circle cx="1031.8" cy="312.5" r="3" stroke-width="2.8" fill="#fff"/>
<circle cx="1032" cy="345" r="3" stroke-width="2.8" fill="#fff"/>
<ellipse cx="1080" cy="268.3" rx="12.4" ry="11.3" stroke-width="2.9" fill="#fff"/>
<circle cx="1080" cy="311.3" r="3" stroke-width="2.8" fill="#fff"/>
<circle cx="1080.3" cy="343" r="3" stroke-width="2.8" fill="#fff"/>
<ellipse cx="1135.75" cy="269.5" rx="12.8" ry="11.7" stroke-width="4" fill="#fff"/>
<ellipse cx="1186.25" cy="271.25" rx="12.4" ry="11.3" stroke-width="2.9" fill="#fff"/>
<circle cx="1186.75" cy="381.25" r="3" stroke-width="2.8" fill="#fff"/>
<circle cx="1187" cy="413.25" r="3" stroke-width="2.8" fill="#fff"/>
<ellipse cx="1239.5" cy="271.25" rx="12.4" ry="11.3" stroke-width="2.9" fill="#fff"/>
<circle cx="1240" cy="380.75" r="3" stroke-width="2.8" fill="#fff"/>
<circle cx="1240.2" cy="413.25" r="3" stroke-width="2.8" fill="#fff"/>
<ellipse cx="1301.25" cy="362.5" rx="12.4" ry="11.3" stroke-width="2.9" fill="#fff"/>
<circle cx="1301.75" cy="472.5" r="3" stroke-width="2.8" fill="#fff"/>
<circle cx="1302" cy="504.5" r="3" stroke-width="2.8" fill="#fff"/>
<circle cx="1056.5" cy="656.5" r="3.1" stroke-width="2.9" fill="#fff"/>
<circle cx="1088.6" cy="656.5" r="3.1" stroke-width="2.9" fill="#fff"/>
<ellipse cx="843.25" cy="753.75" rx="12.4" ry="11.3" stroke-width="2.9" fill="#fff"/>
<circle cx="725.8" cy="1020.5" r="2.5" stroke-width="2.4" fill="#fff"/>
<circle cx="725.8" cy="1040" r="2.5" stroke-width="2.4" fill="#fff"/>
<circle cx="748.3" cy="1030.5" r="2.5" stroke-width="2.4" fill="#fff"/>
<ellipse cx="883" cy="753.25" rx="12.4" ry="11.3" stroke-width="2.9" fill="#fff"/>
<circle cx="987.6" cy="815.6" r="2.5" stroke-width="2.4" fill="#fff"/>
<circle cx="987.6" cy="832.9" r="2.5" stroke-width="2.4" fill="#fff"/>
<circle cx="1009.7" cy="825.7" r="2.5" stroke-width="2.4" fill="#fff"/>
<circle cx="937.6" cy="915.7" r="2.5" stroke-width="2.4" fill="#fff"/>
<circle cx="937.6" cy="935.4" r="2.5" stroke-width="2.4" fill="#fff"/>
<circle cx="960.1" cy="925.9" r="2.5" stroke-width="2.4" fill="#fff"/>
<circle cx="837" cy="879.5" r="3.1" stroke-width="2.9" fill="#fff"/>
<circle cx="837" cy="901.3" r="3.1" stroke-width="2.9" fill="#fff"/>
<circle cx="837.5" cy="985" r="3.1" stroke-width="2.9" fill="#fff"/>
<circle cx="837.5" cy="1006.5" r="3.1" stroke-width="2.9" fill="#fff"/>
<ellipse cx="1222.9" cy="1182.5" rx="12.4" ry="11.3" stroke-width="2.9" fill="#fff"/>
<circle cx="1224" cy="1270" r="3.3" stroke-width="2.9" fill="#fff"/>
<circle cx="1208.8" cy="1294.8" r="3.3" stroke-width="2.9" fill="#fff"/>
<circle cx="1224" cy="1294.8" r="3.3" stroke-width="2.9" fill="#fff"/>
<circle cx="1237.6" cy="1294.8" r="3.3" stroke-width="2.9" fill="#fff"/>
<ellipse cx="1309" cy="1282.4" rx="12.4" ry="11.3" stroke-width="2.9" fill="#fff"/>
<circle cx="1309.5" cy="1315" r="3" stroke-width="2.8" fill="#fff"/>
<circle cx="1309.7" cy="1346.75" r="3" stroke-width="2.8" fill="#fff"/>
<circle cx="1010.5" cy="1453" r="2.6" stroke-width="2.5" fill="#fff"/>
<circle cx="1041.3" cy="1453" r="2.6" stroke-width="2.5" fill="#fff"/>
<ellipse cx="1066.75" cy="1452.5" rx="11.8" ry="11.2" stroke-width="2.9" fill="#fff"/>
<circle cx="888.75" cy="1475" r="3.1" stroke-width="2.9" fill="#fff"/>
<circle cx="888.75" cy="1497" r="3.1" stroke-width="2.9" fill="#fff"/>
</g>
<g opacity="0.996">
<text x="17.6" y="38.2" font-size="33.2" font-weight="bold" textLength="130.8" lengthAdjust="spacingAndGlyphs" stroke="#000" stroke-width="1.5" fill="#000" transform="rotate(-0.35 17.6 38.2)">CIRCUIT</text>
<text x="163.2" y="37.3" font-size="33.2" font-weight="bold" textLength="151.2" lengthAdjust="spacingAndGlyphs" stroke="#000" stroke-width="1.5" fill="#000" transform="rotate(-0.35 163.2 37.3)">DIAGRAM</text>
<text x="348.6" y="36.7" font-size="15.8" font-weight="bold" textLength="79.8" lengthAdjust="spacingAndGlyphs" stroke="#000" stroke-width="0.8" fill="#000" transform="rotate(-0.3 348.6 36.7)">E82DD704</text>
<text x="17.6" y="96.5" font-size="28.2" font-weight="bold" textLength="60.2" lengthAdjust="spacingAndGlyphs" stroke="#000" stroke-width="1.3" fill="#000" transform="rotate(-0.15 17.6 96.5)">BCM</text>
<text x="95.5" y="96.4" font-size="28.5" font-weight="normal" textLength="17" lengthAdjust="spacingAndGlyphs" stroke="#000" stroke-width="0.9" fill="#000" transform="rotate(-0.15 95.5 96.4)">&amp;</text>
<text x="130.6" y="96.2" font-size="28.2" font-weight="bold" textLength="137.2" lengthAdjust="spacingAndGlyphs" stroke="#000" stroke-width="1.3" fill="#000" transform="rotate(-0.15 130.6 96.2)">RECEIVER</text>
<text x="1382.5" y="1808.1" font-size="17" font-weight="bold" textLength="75.9" lengthAdjust="spacingAndGlyphs" stroke="#000" stroke-width="0.7" fill="#000" transform="rotate(-0.2 1382.5 1808.1)">BTJF140B</text>
<text x="625.3" y="365.3" font-size="16.5" font-weight="bold" textLength="26.3" lengthAdjust="spacingAndGlyphs" stroke="#000" stroke-width="0.8" fill="#000" transform="rotate(-0.25 625.3 365.3)">B18</text>
<text x="625.1" y="411.2" font-size="16.5" font-weight="bold" textLength="18" lengthAdjust="spacingAndGlyphs" stroke="#000" stroke-width="0.8" fill="#000" transform="rotate(-0.25 625.1 411.2)">B9</text>
<text x="625.8" y="455.5" font-size="16.5" font-weight="bold" textLength="17.8" lengthAdjust="spacingAndGlyphs" stroke="#000" stroke-width="0.8" fill="#000" transform="rotate(-0.25 625.8 455.5)">B7</text>
<text x="625.8" y="500.6" font-size="16.5" font-weight="bold" textLength="18.1" lengthAdjust="spacingAndGlyphs" stroke="#000" stroke-width="0.8" fill="#000" transform="rotate(-0.25 625.8 500.6)">B8</text>
<text x="626.3" y="536.9" font-size="16.5" font-weight="bold" textLength="18.3" lengthAdjust="spacingAndGlyphs" stroke="#000" stroke-width="0.8" fill="#000" transform="rotate(-0.25 626.3 536.9)">A8</text>
<text x="626.3" y="567.3" font-size="16.5" font-weight="bold" textLength="26.3" lengthAdjust="spacingAndGlyphs" stroke="#000" stroke-width="0.8" fill="#000" transform="rotate(-0.25 626.3 567.3)">A22</text>
<text x="626.8" y="643.6" font-size="16.5" font-weight="bold" textLength="24.6" lengthAdjust="spacingAndGlyphs" stroke="#000" stroke-width="0.8" fill="#000" transform="rotate(-0.25 626.8 643.6)">A21</text>
<text x="626.8" y="674.3" font-size="16.5" font-weight="bold" textLength="26.3" lengthAdjust="spacingAndGlyphs" stroke="#000" stroke-width="0.8" fill="#000" transform="rotate(-0.25 626.8 674.3)">B19</text>
<text x="626.8" y="705.9" font-size="16.5" font-weight="bold" textLength="26.3" lengthAdjust="spacingAndGlyphs" stroke="#000" stroke-width="0.8" fill="#000" transform="rotate(-0.25 626.8 705.9)">B17</text>
<text x="627.6" y="744.7" font-size="16.5" font-weight="bold" textLength="17.5" lengthAdjust="spacingAndGlyphs" stroke="#000" stroke-width="0.8" fill="#000" transform="rotate(-0.25 627.6 744.7)">B5</text>
<text x="628.1" y="781.6" font-size="16.5" font-weight="bold" textLength="25.8" lengthAdjust="spacingAndGlyphs" stroke="#000" stroke-width="0.8" fill="#000" transform="rotate(-0.25 628.1 781.6)">B16</text>
<text x="628.1" y="819.5" font-size="16.5" font-weight="bold" textLength="25.8" lengthAdjust="spacingAndGlyphs" stroke="#000" stroke-width="0.8" fill="#000" transform="rotate(-0.25 628.1 819.5)">B15</text>
<text x="628.1" y="855.3" font-size="16.5" font-weight="bold" textLength="26.5" lengthAdjust="spacingAndGlyphs" stroke="#000" stroke-width="0.8" fill="#000" transform="rotate(-0.25 628.1 855.3)">B14</text>
<text x="629.3" y="891.1" font-size="16.5" font-weight="bold" textLength="17.1" lengthAdjust="spacingAndGlyphs" stroke="#000" stroke-width="0.8" fill="#000" transform="rotate(-0.25 629.3 891.1)">B4</text>
<text x="629.3" y="929.6" font-size="16.5" font-weight="bold" textLength="17.8" lengthAdjust="spacingAndGlyphs" stroke="#000" stroke-width="0.8" fill="#000" transform="rotate(-0.25 629.3 929.6)">B3</text>
<text x="629.1" y="971" font-size="16.5" font-weight="bold" textLength="25.5" lengthAdjust="spacingAndGlyphs" stroke="#000" stroke-width="0.8" fill="#000" transform="rotate(-0.25 629.1 971)">B13</text>
<text x="629.1" y="1007.3" font-size="16.5" font-weight="bold" textLength="26" lengthAdjust="spacingAndGlyphs" stroke="#000" stroke-width="0.8" fill="#000" transform="rotate(-0.25 629.1 1007.3)">B12</text>
<text x="629.8" y="1139.8" font-size="16.5" font-weight="bold" textLength="18.8" lengthAdjust="spacingAndGlyphs" stroke="#000" stroke-width="0.8" fill="#000" transform="rotate(-0.25 629.8 1139.8)">B2</text>
<text x="630.8" y="1182.3" font-size="16.5" font-weight="bold" textLength="25.1" lengthAdjust="spacingAndGlyphs" stroke="#000" stroke-width="0.8" fill="#000" transform="rotate(-0.25 630.8 1182.3)">B11</text>
<text x="630.8" y="1220.8" font-size="16.5" font-weight="bold" textLength="16.8" lengthAdjust="spacingAndGlyphs" stroke="#000" stroke-width="0.8" fill="#000" transform="rotate(-0.25 630.8 1220.8)">B1</text>
<text x="630.8" y="1257.8" font-size="16.5" font-weight="bold" textLength="26.3" lengthAdjust="spacingAndGlyphs" stroke="#000" stroke-width="0.8" fill="#000" transform="rotate(-0.25 630.8 1257.8)">A24</text>
<text x="631.3" y="1339.6" font-size="16.5" font-weight="bold" textLength="26.3" lengthAdjust="spacingAndGlyphs" stroke="#000" stroke-width="0.8" fill="#000" transform="rotate(-0.25 631.3 1339.6)">A17</text>
<text x="631.8" y="1385.8" font-size="16.5" font-weight="bold" textLength="26.3" lengthAdjust="spacingAndGlyphs" stroke="#000" stroke-width="0.8" fill="#000" transform="rotate(-0.25 631.8 1385.8)">B20</text>
<text x="738.8" y="348.8" font-size="16.5" font-weight="bold" textLength="18.6" lengthAdjust="spacingAndGlyphs" stroke="#000" stroke-width="0.8" fill="#000" transform="rotate(-0.25 738.8 348.8)">A3</text>
<text x="738.8" y="425.8" font-size="16.5" font-weight="bold" textLength="18.6" lengthAdjust="spacingAndGlyphs" stroke="#000" stroke-width="0.8" fill="#000" transform="rotate(-0.25 738.8 425.8)">A4</text>
<text x="739.1" y="468.6" font-size="16.5" font-weight="bold" textLength="18.4" lengthAdjust="spacingAndGlyphs" stroke="#000" stroke-width="0.8" fill="#000" transform="rotate(-0.25 739.1 468.6)">A5</text>
<text x="731" y="514.7" font-size="16.5" font-weight="bold" textLength="26.1" lengthAdjust="spacingAndGlyphs" stroke="#000" stroke-width="0.8" fill="#000" transform="rotate(-0.25 731 514.7)">A20</text>
<text x="735.3" y="537.9" font-size="16.5" font-weight="bold" textLength="26.1" lengthAdjust="spacingAndGlyphs" stroke="#000" stroke-width="0.8" fill="#000" transform="rotate(-0.25 735.3 537.9)">A15</text>
<text x="731.3" y="588.5" font-size="16.5" font-weight="bold" textLength="24.8" lengthAdjust="spacingAndGlyphs" stroke="#000" stroke-width="0.8" fill="#000" transform="rotate(-0.25 731.3 588.5)">A14</text>
<text x="739.6" y="663.6" font-size="16.5" font-weight="bold" textLength="16.8" lengthAdjust="spacingAndGlyphs" stroke="#000" stroke-width="0.8" fill="#000" transform="rotate(-0.25 739.6 663.6)">B6</text>
<text x="739.6" y="697.8" font-size="16.5" font-weight="bold" textLength="18" lengthAdjust="spacingAndGlyphs" stroke="#000" stroke-width="0.8" fill="#000" transform="rotate(-0.25 739.6 697.8)">A7</text>
<text x="740.1" y="807.8" font-size="16.5" font-weight="bold" textLength="19.5" lengthAdjust="spacingAndGlyphs" stroke="#000" stroke-width="0.8" fill="#000" transform="rotate(-0.25 740.1 807.8)">A6</text>
<text x="733.3" y="869.8" font-size="16.5" font-weight="bold" textLength="26.3" lengthAdjust="spacingAndGlyphs" stroke="#000" stroke-width="0.8" fill="#000" transform="rotate(-0.25 733.3 869.8)">A13</text>
<text x="741.6" y="975.6" font-size="16.5" font-weight="bold" textLength="16.8" lengthAdjust="spacingAndGlyphs" stroke="#000" stroke-width="0.8" fill="#000" transform="rotate(-0.25 741.6 975.6)">A1</text>
<text x="782.6" y="1052.1" font-size="16.5" font-weight="bold" textLength="17.5" lengthAdjust="spacingAndGlyphs" stroke="#000" stroke-width="0.8" fill="#000" transform="rotate(-0.25 782.6 1052.1)">A8</text>
<text x="736.3" y="1328.3" font-size="16.5" font-weight="bold" textLength="26.3" lengthAdjust="spacingAndGlyphs" stroke="#000" stroke-width="0.8" fill="#000" transform="rotate(-0.25 736.3 1328.3)">A12</text>
<text x="744.3" y="1394.6" font-size="16.5" font-weight="bold" textLength="18.3" lengthAdjust="spacingAndGlyphs" stroke="#000" stroke-width="0.8" fill="#000" transform="rotate(-0.25 744.3 1394.6)">A2</text>
<text x="736.8" y="1459.1" font-size="16.5" font-weight="bold" textLength="25.8" lengthAdjust="spacingAndGlyphs" stroke="#000" stroke-width="0.8" fill="#000" transform="rotate(-0.25 736.8 1459.1)">B10</text>
<text x="323.45" y="284.8" font-size="16.5" font-weight="bold" textLength="22.5" lengthAdjust="spacingAndGlyphs" stroke="#000" stroke-width="0.6" fill="#000" transform="rotate(-0.25 323.45 284.8)">IG1</text>
<text x="375.25" y="284.7" font-size="16.5" font-weight="bold" textLength="22.5" lengthAdjust="spacingAndGlyphs" stroke="#000" stroke-width="0.6" fill="#000" transform="rotate(-0.25 375.25 284.7)">IG2</text>
<text x="430" y="284.4" font-size="16" font-weight="bold" textLength="17" lengthAdjust="spacingAndGlyphs" stroke="#000" stroke-width="0.6" fill="#000" transform="rotate(-0.25 430 284.4)">B+</text>
<text x="468.6" y="286.5" font-size="15.9" font-weight="bold" textLength="41.5" lengthAdjust="spacingAndGlyphs" stroke="#000" stroke-width="0.6" fill="#000">ALT&quot;L&quot;</text>
<text x="252.25" y="426.8" font-size="16" font-weight="bold" textLength="17" lengthAdjust="spacingAndGlyphs" stroke="#000" stroke-width="0.6" fill="#000" transform="rotate(-0.25 252.25 426.8)">B+</text>
<text x="242.2" y="530.6" font-size="14.6" font-weight="bold" textLength="38.8" lengthAdjust="spacingAndGlyphs" stroke="#000" stroke-width="0.7" fill="#000" transform="rotate(-0.25 242.2 530.6)">CODE</text>
<text x="236.2" y="548.2" font-size="14.6" font-weight="bold" textLength="49.4" lengthAdjust="spacingAndGlyphs" stroke="#000" stroke-width="0.7" fill="#000" transform="rotate(-0.25 236.2 548.2)">SAVING</text>
<text x="431.4" y="568.6" font-size="15.9" font-weight="bold" textLength="55.1" lengthAdjust="spacingAndGlyphs" stroke="#000" stroke-width="0.6" fill="#000" transform="rotate(-0.25 431.4 568.6)">AIR BAG</text>
<text x="233.2" y="635.3" font-size="16.8" font-weight="bold" textLength="263.1" lengthAdjust="spacingAndGlyphs" stroke="#000" stroke-width="0.8" fill="#000" transform="rotate(-0.25 233.2 635.3)">AS DR KEY LOCK &amp; T/GATE KEY LOCK SW</text>
<text x="233.2" y="666.9" font-size="16.8" font-weight="bold" textLength="129.8" lengthAdjust="spacingAndGlyphs" stroke="#000" stroke-width="0.8" fill="#000" transform="rotate(-0.25 233.2 666.9)">Dr DR KEY LOCK SW</text>
<text x="233.2" y="697.8" font-size="16.8" font-weight="bold" textLength="64.3" lengthAdjust="spacingAndGlyphs" stroke="#000" stroke-width="0.8" fill="#000" transform="rotate(-0.25 233.2 697.8)">HOOD SW</text>
<text x="233.7" y="721.6" font-size="16.8" font-weight="bold" textLength="190.6" lengthAdjust="spacingAndGlyphs" stroke="#000" stroke-width="0.8" fill="#000" transform="rotate(-0.25 233.7 721.6)">TRUNK KEY UNLOCK SW[4DR]</text>
<text x="233.7" y="737.7" font-size="16.8" font-weight="bold" textLength="191.8" lengthAdjust="spacingAndGlyphs" stroke="#000" stroke-width="0.8" fill="#000" transform="rotate(-0.25 233.7 737.7)">T/GATE KEY UNLOCK SW[5DR]</text>
<text x="233.9" y="772.3" font-size="16.8" font-weight="bold" textLength="150.4" lengthAdjust="spacingAndGlyphs" stroke="#000" stroke-width="0.8" fill="#000" transform="rotate(-0.25 233.9 772.3)">Dr DR ACT. UNLOCK SW</text>
<text x="233.9" y="809.9" font-size="16.8" font-weight="bold" textLength="151.6" lengthAdjust="spacingAndGlyphs" stroke="#000" stroke-width="0.8" fill="#000" transform="rotate(-0.25 233.9 809.9)">As DR ACT. UNLOCK SW</text>
<text x="233.9" y="846.5" font-size="16.8" font-weight="bold" textLength="211.1" lengthAdjust="spacingAndGlyphs" stroke="#000" stroke-width="0.8" fill="#000" transform="rotate(-0.25 233.9 846.5)">REAR &amp; T/GATE ACT. UNLOCK SW</text>
<text x="234.4" y="883.5" font-size="16.8" font-weight="bold" textLength="125.4" lengthAdjust="spacingAndGlyphs" stroke="#000" stroke-width="0.8" fill="#000" transform="rotate(-0.25 234.4 883.5)">Dr DR KEY UNLOCK</text>
<text x="234.9" y="922.3" font-size="16.8" font-weight="bold" textLength="126.4" lengthAdjust="spacingAndGlyphs" stroke="#000" stroke-width="0.8" fill="#000" transform="rotate(-0.25 234.9 922.3)">As DR KEY UNLOCK</text>
<text x="235.2" y="960.8" font-size="16.8" font-weight="bold" textLength="92.3" lengthAdjust="spacingAndGlyphs" stroke="#000" stroke-width="0.8" fill="#000" transform="rotate(-0.25 235.2 960.8)">SEAT BELT SW</text>
<text x="235.2" y="998.5" font-size="16.8" font-weight="bold" textLength="90.3" lengthAdjust="spacingAndGlyphs" stroke="#000" stroke-width="0.8" fill="#000" transform="rotate(-0.25 235.2 998.5)">TAIL LAMP SW</text>
<text x="393.2" y="1131" font-size="15.9" font-weight="bold" textLength="94.1" lengthAdjust="spacingAndGlyphs" stroke="#000" stroke-width="0.6" fill="#000" transform="rotate(-0.25 393.2 1131)">4 X DOOR SW</text>
<text x="392.4" y="1171.5" font-size="15.9" font-weight="bold" textLength="103.1" lengthAdjust="spacingAndGlyphs" stroke="#000" stroke-width="0.6" fill="#000" transform="rotate(-0.25 392.4 1171.5)">DRIVER DR SW</text>
<text x="392.4" y="1210.3" font-size="15.9" font-weight="bold" textLength="99.9" lengthAdjust="spacingAndGlyphs" stroke="#000" stroke-width="0.6" fill="#000" transform="rotate(-0.25 392.4 1210.3)">ASSIST DR SW</text>
<text x="392.4" y="1246.5" font-size="15.9" font-weight="bold" textLength="130.6" lengthAdjust="spacingAndGlyphs" stroke="#000" stroke-width="0.6" fill="#000" transform="rotate(-0.25 392.4 1246.5)">RR DEFOGGER SW</text>
<text x="822.25" y="267.6" font-size="16" font-weight="bold" textLength="17" lengthAdjust="spacingAndGlyphs" stroke="#000" stroke-width="0.6" fill="#000" transform="rotate(-0.25 822.25 267.6)">B+</text>
<text x="919.4" y="336.5" font-size="15.9" font-weight="bold" textLength="102.4" lengthAdjust="spacingAndGlyphs" stroke="#000" stroke-width="0.6" fill="#000" transform="rotate(-0.25 919.4 336.5)">B/ALARM HORN</text>
<text x="1023.25" y="274.35" font-size="16" font-weight="bold" textLength="17" lengthAdjust="spacingAndGlyphs" stroke="#000" stroke-width="0.6" fill="#000" transform="rotate(-0.25 1023.25 274.35)">B+</text>
<text x="835.7" y="411.5" font-size="15.9" font-weight="bold" textLength="82.3" lengthAdjust="spacingAndGlyphs" stroke="#000" stroke-width="0.6" fill="#000" transform="rotate(-0.25 835.7 411.5)">HAZARD RLY</text>
<text x="1071" y="273.9" font-size="16" font-weight="bold" textLength="18" lengthAdjust="spacingAndGlyphs" stroke="#000" stroke-width="0.6" fill="#000" transform="rotate(-0.25 1071 273.9)">ST</text>
<text x="916.7" y="464.6" font-size="15.9" font-weight="bold" textLength="86.4" lengthAdjust="spacingAndGlyphs" stroke="#000" stroke-width="0.6" fill="#000" transform="rotate(-0.25 916.7 464.6)">B/ALARM RLY</text>
<text x="1124.5" y="275.4" font-size="16.5" font-weight="bold" textLength="22.5" lengthAdjust="spacingAndGlyphs" stroke="#000" stroke-width="0.6" fill="#000" transform="rotate(-0.25 1124.5 275.4)">IG1</text>
<text x="842.4" y="521.2" font-size="15.9" font-weight="bold" textLength="72.7" lengthAdjust="spacingAndGlyphs" stroke="#000" stroke-width="0.6" fill="#000" transform="rotate(-0.25 842.4 521.2)">S/BELT IND</text>
<text x="1177.75" y="276.85" font-size="16" font-weight="bold" textLength="17" lengthAdjust="spacingAndGlyphs" stroke="#000" stroke-width="0.6" fill="#000" transform="rotate(-0.25 1177.75 276.85)">B+</text>
<text x="905.2" y="540.3" font-size="15.9" font-weight="bold" textLength="95.3" lengthAdjust="spacingAndGlyphs" stroke="#000" stroke-width="0.6" fill="#000" transform="rotate(-0.25 905.2 540.3)">TAIL LAMP RLY</text>
<text x="1231" y="276.85" font-size="16" font-weight="bold" textLength="17" lengthAdjust="spacingAndGlyphs" stroke="#000" stroke-width="0.6" fill="#000" transform="rotate(-0.25 1231 276.85)">B+</text>
<text x="793.2" y="579.7" font-size="15.9" font-weight="bold" textLength="127.3" lengthAdjust="spacingAndGlyphs" stroke="#000" stroke-width="0.6" fill="#000" transform="rotate(-0.25 793.2 579.7)">RR DEFOGGER RLY</text>
<text x="1292.75" y="368.1" font-size="16" font-weight="bold" textLength="17" lengthAdjust="spacingAndGlyphs" stroke="#000" stroke-width="0.6" fill="#000" transform="rotate(-0.25 1292.75 368.1)">B+</text>
<text x="1036.4" y="641.5" font-size="15.9" font-weight="bold" textLength="69.1" lengthAdjust="spacingAndGlyphs" stroke="#000" stroke-width="0.6" fill="#000" transform="rotate(-0.25 1036.4 641.5)">KEY IN SW</text>
<text x="835.7" y="716.5" font-size="15.9" font-weight="bold" textLength="80.6" lengthAdjust="spacingAndGlyphs" stroke="#000" stroke-width="0.6" fill="#000" transform="rotate(-0.25 835.7 716.5)">CHIME BELL</text>
<text x="834.75" y="759.35" font-size="16" font-weight="bold" textLength="17" lengthAdjust="spacingAndGlyphs" stroke="#000" stroke-width="0.6" fill="#000" transform="rotate(-0.25 834.75 759.35)">B+</text>
<text x="623.2" y="1097.3" font-size="16.8" font-weight="bold" textLength="136.1" lengthAdjust="spacingAndGlyphs" stroke="#000" stroke-width="0.8" fill="#000" transform="rotate(-0.25 623.2 1097.3)">Dr DR UNLOCK RLY</text>
<text x="874.5" y="758.85" font-size="16" font-weight="bold" textLength="17" lengthAdjust="spacingAndGlyphs" stroke="#000" stroke-width="0.6" fill="#000" transform="rotate(-0.25 874.5 758.85)">B+</text>
<text x="791.9" y="857.8" font-size="15.9" font-weight="bold" textLength="64.9" lengthAdjust="spacingAndGlyphs" stroke="#000" stroke-width="0.6" fill="#000" transform="rotate(-0.25 791.9 857.8)">LOCK RLY</text>
<text x="792.4" y="962.3" font-size="15.9" font-weight="bold" textLength="83.1" lengthAdjust="spacingAndGlyphs" stroke="#000" stroke-width="0.6" fill="#000" transform="rotate(-0.25 792.4 962.3)">UNLOCK RLY</text>
<text x="1214.4" y="1188.1" font-size="16" font-weight="bold" textLength="17" lengthAdjust="spacingAndGlyphs" stroke="#000" stroke-width="0.6" fill="#000" transform="rotate(-0.25 1214.4 1188.1)">B+</text>
<text x="967.7" y="1318.3" font-size="15.9" font-weight="bold" textLength="81.6" lengthAdjust="spacingAndGlyphs" stroke="#000" stroke-width="0.6" fill="#000" transform="rotate(-0.25 967.7 1318.3)">ROOM LAMP</text>
<text x="1300.5" y="1288" font-size="16" font-weight="bold" textLength="17" lengthAdjust="spacingAndGlyphs" stroke="#000" stroke-width="0.6" fill="#000" transform="rotate(-0.25 1300.5 1288)">B+</text>
<text x="1182.7" y="1344" font-size="15.9" font-weight="bold" textLength="70.4" lengthAdjust="spacingAndGlyphs" stroke="#000" stroke-width="0.6" fill="#000" transform="rotate(-0.25 1182.7 1344)">P/WINDOW</text>
<text x="1205.8" y="1360.7" font-size="15.9" font-weight="bold" textLength="23.6" lengthAdjust="spacingAndGlyphs" stroke="#000" stroke-width="0.6" fill="#000" transform="rotate(-0.25 1205.8 1360.7)">RLY</text>
<text x="1221.4" y="1450.8" font-size="15.9" font-weight="bold" textLength="71.5" lengthAdjust="spacingAndGlyphs" stroke="#000" stroke-width="0.6" fill="#000" transform="rotate(-0.25 1221.4 1450.8)">P/WINDOW</text>
<text x="1227.7" y="1468.1" font-size="15.9" font-weight="bold" textLength="59.4" lengthAdjust="spacingAndGlyphs" stroke="#000" stroke-width="0.6" fill="#000" transform="rotate(-0.25 1227.7 1468.1)">MAIN SW</text>
<text x="1058.75" y="1457.8" font-size="15" font-weight="bold" textLength="16" lengthAdjust="spacingAndGlyphs" stroke="#000" stroke-width="0.6" fill="#000" transform="rotate(-0.25 1058.75 1457.8)">B+</text>
<text x="902.4" y="1439" font-size="15.9" font-weight="bold" textLength="105.6" lengthAdjust="spacingAndGlyphs" stroke="#000" stroke-width="0.6" fill="#000" transform="rotate(-0.25 902.4 1439)">LUGGAGE LAMP</text>
<text x="895.7" y="1492.8" font-size="15.9" font-weight="bold" textLength="189.8" lengthAdjust="spacingAndGlyphs" stroke="#000" stroke-width="0.6" fill="#000" transform="rotate(-0.25 895.7 1492.8)">TRUNK SW (T/GATE SW_5DR)</text>
</g>
</svg>
</body>
</html>
